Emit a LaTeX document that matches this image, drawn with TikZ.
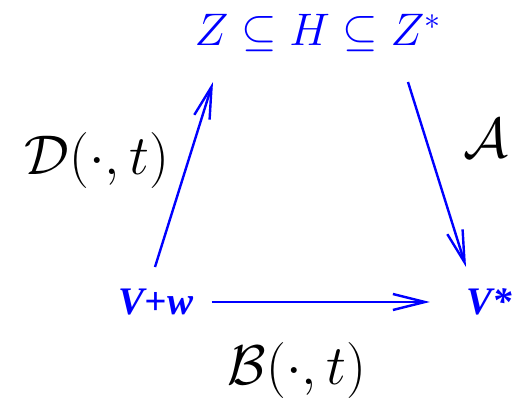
\RequirePackage{fix-cm}
\documentclass[tikz,border=0pt]{standalone}
\usepackage{fontspec}
\usetikzlibrary{arrows.meta}
\newfontfamily\spacefont{Liberation Serif}
\begin{document}
\begin{tikzpicture}[x=0.5pt, y=-0.5pt, arr/.style={draw=blue, line width=1.2pt, -{Straight Barb[length=16pt, width=8pt, line width=1.2pt]}}, space/.style={blue, inner sep=0pt, font=\spacefont\bfseries\itshape\fontsize{19.5}{23}\selectfont}, oplabel/.style={inner sep=0pt, font=\fontsize{28}{33}\selectfont}]
			\useasboundingbox (0,0) rectangle (514,402);
			\node[blue, inner sep=0pt, font=\fontsize{22.8}{27}\selectfont] (chain) at (318,33) {$Z\subseteq H\subseteq Z^*$};
			\node[space] (vw) at (156,302) {V+w};
			\node[space] (vstar) at (489,302) {V*};
			\coordinate (dfrom) at (155,267);
			\coordinate (dto) at (213,82);
			\coordinate (afrom) at (408,82);
			\coordinate (ato) at (466,267);
			\draw[arr] (dfrom) -- (dto);
			\draw[arr] (afrom) -- (ato);
			\draw[arr, shorten <=9pt, shorten >=18pt] (vw.east) -- (vstar.west);
			\node[oplabel] (dlabel) at (97,160) {$\mathcal{D}(\cdot,t)$};
			\node[oplabel] (alabel) at (486,138) {$\mathcal{A}$};
			\node[oplabel] (blabel) at (297,370) {$\mathcal{B}(\cdot,t)$};
			\end{tikzpicture}
\end{document}
